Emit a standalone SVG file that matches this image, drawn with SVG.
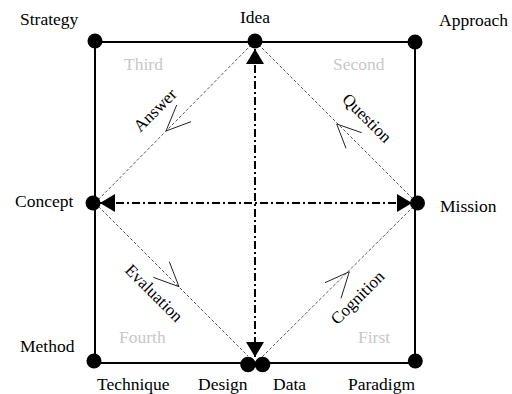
<svg xmlns="http://www.w3.org/2000/svg" width="512" height="394" viewBox="0 0 512 394">
<style>
text{font-family:"Liberation Serif","Times New Roman",serif;font-size:17.5px;fill:#000}
.q{fill:#c8c8c8}
.r{font-size:17px}
.frame{fill:none;stroke:#000;stroke-width:2}
.diag{fill:none;stroke:#555;stroke-width:1;stroke-dasharray:3,2}
.dd{fill:none;stroke:#000;stroke-width:2;stroke-dasharray:8,3,2,3}
.chev{fill:none;stroke:#222;stroke-width:1}
.dot{fill:#000}
</style>
<defs>
<marker id="tri" viewBox="-16 -9 17 18" refX="0" refY="0" markerWidth="17" markerHeight="18" markerUnits="userSpaceOnUse" orient="auto-start-reverse">
<path d="M0,0 L-15,-9 L-15,9 Z" fill="#000"/>
</marker>
</defs>
<rect class="frame" x="95" y="42" width="320" height="321"/>
<g id="connectors">
<path class="diag" d="M255,41 L95,203"/>
<path class="diag" d="M255,41 L417,203"/>
<path class="diag" d="M95,203 L248,356"/>
<path class="diag" d="M417,203 L262,357"/>
<path class="dd" d="M255,49 L255,357" marker-start="url(#tri)" marker-end="url(#tri)"/>
<path class="dd" d="M100,203 L412,203" marker-start="url(#tri)" marker-end="url(#tri)"/>
<path class="chev" d="M176.7,105 L166,131 L191,121.7"/>
<path class="chev" d="M361.7,132.7 L336.7,124 L346,148.3"/>
<path class="chev" d="M153.3,277.3 L179,286.7 L169.3,261.7"/>
<path class="chev" d="M325,282.7 L349.3,271.7 L341,298.3"/>
<text class="r" text-anchor="middle" transform="translate(159,114) rotate(-45)">Answer</text>
<text class="r" text-anchor="middle" transform="translate(363,122) rotate(45)">Question</text>
<text class="r" text-anchor="middle" transform="translate(150,297) rotate(45)">Evaluation</text>
<text class="r" text-anchor="middle" transform="translate(361.5,301.5) rotate(-45)">Cognition</text>
</g>
<g id="strategy"><circle class="dot" cx="95" cy="41" r="7.5"/><text x="20" y="25">Strategy</text></g>
<g id="idea"><circle class="dot" cx="255" cy="41" r="7.5"/><text x="255" y="23" text-anchor="middle">Idea</text></g>
<g id="approach"><circle class="dot" cx="415" cy="42" r="7.5"/><text x="439" y="26">Approach</text></g>
<g id="concept"><circle class="dot" cx="93" cy="203" r="7.5"/><text x="15" y="207">Concept</text></g>
<g id="mission"><circle class="dot" cx="417.5" cy="203" r="7.5"/><text x="440" y="212">Mission</text></g>
<g id="method"><circle class="dot" cx="94" cy="361" r="7.5"/><text x="20" y="352">Method</text></g>
<g id="technique"><text x="97" y="390">Technique</text></g>
<g id="design"><circle class="dot" cx="248" cy="364.5" r="7.8"/><text x="198" y="390">Design</text></g>
<g id="data"><circle class="dot" cx="262.5" cy="364.5" r="7.8"/><text x="273" y="390">Data</text></g>
<g id="paradigm"><circle class="dot" cx="415.3" cy="361" r="7.5"/><text x="348" y="390">Paradigm</text></g>
<g id="quadrants">
<text class="q" x="124" y="70">Third</text>
<text class="q" x="333" y="70">Second</text>
<text class="q" x="119" y="343">Fourth</text>
<text class="q" x="358" y="343">First</text>
</g>
</svg>
